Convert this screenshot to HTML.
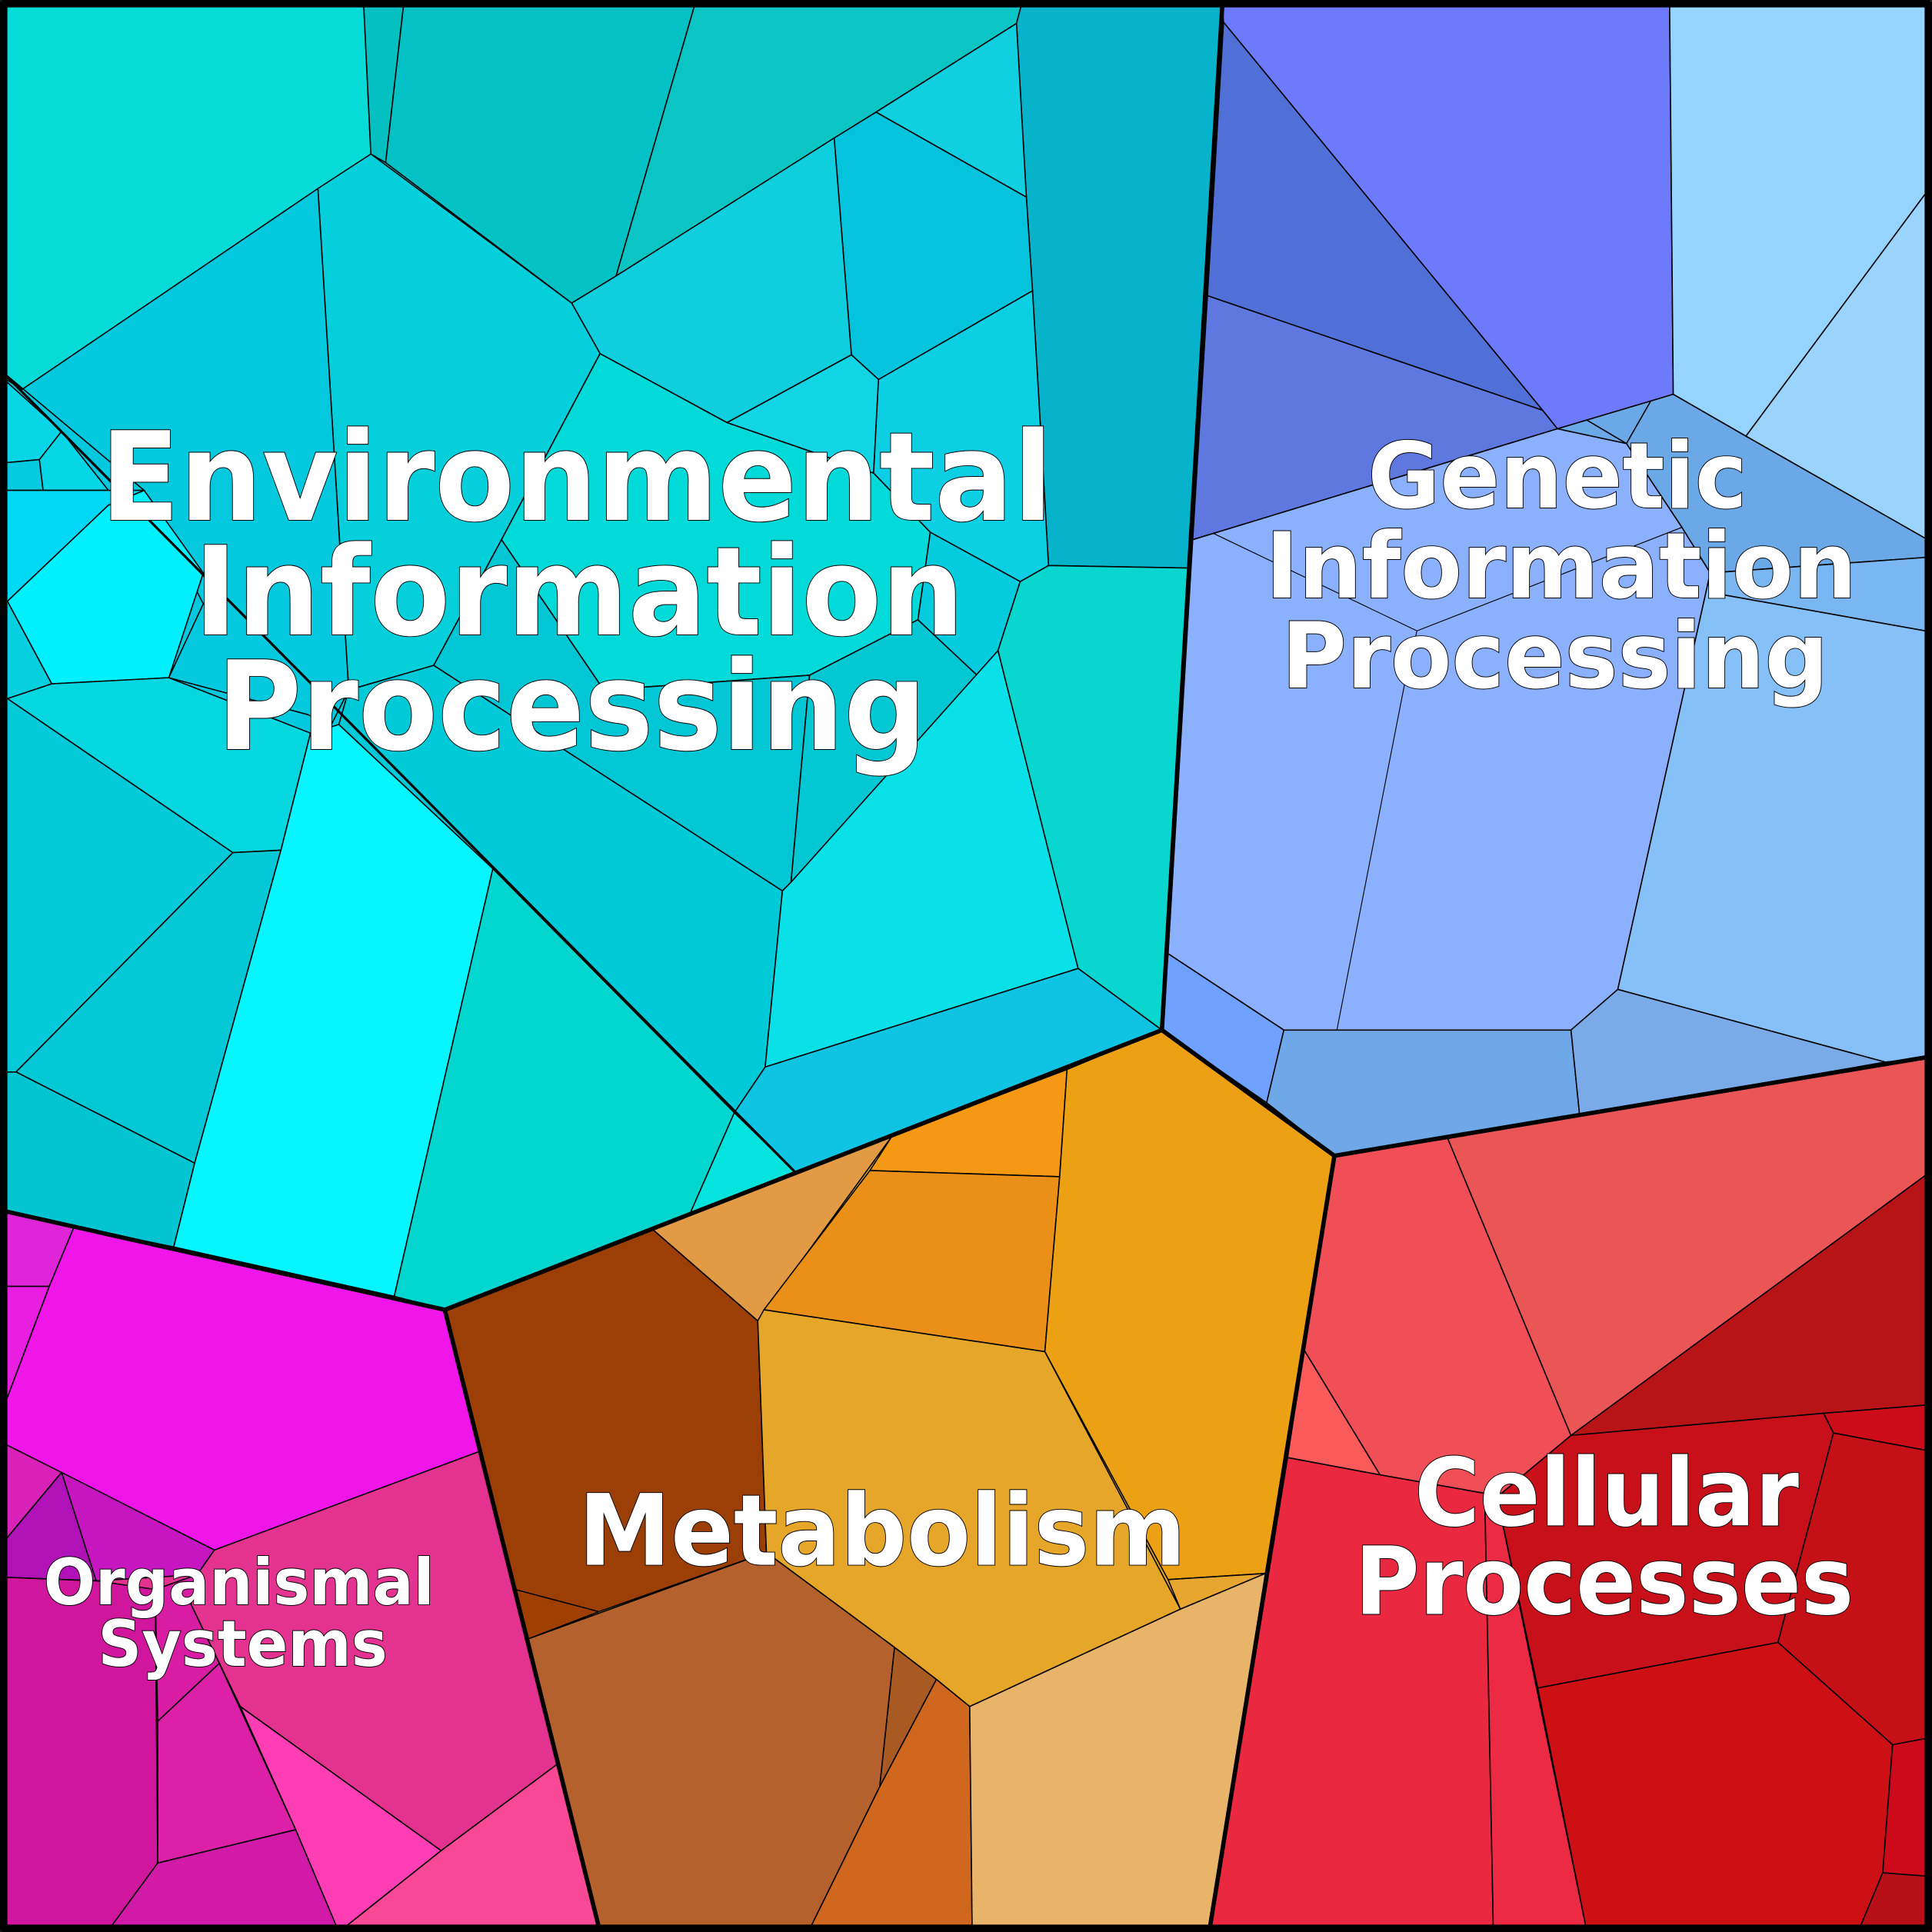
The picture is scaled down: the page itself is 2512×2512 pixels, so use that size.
<!DOCTYPE html>
<html><head><meta charset="utf-8"><style>html,body{margin:0;padding:0;background:#fff}svg{display:block}</style></head><body>
<svg width="2512" height="2512" viewBox="0 0 1568 1568" xmlns="http://www.w3.org/2000/svg">
<!-- region backgrounds -->
<polygon fill="#04c9de" points="0,0 992,0 943,836 361,1063 0,983"/>
<polygon fill="#8bb0fe" points="992,0 1568,0 1568,858 1083,938 943,836"/>
<polygon fill="#e6a629" points="943,836 1083,938 982,1568 486,1568 361,1063"/>
<polygon fill="#e43290" points="0,983 361,1063 486,1568 0,1568"/>
<polygon fill="#c8101a" points="1083,938 1568,858 1568,1568 982,1568"/>
<g stroke="#000" stroke-width="1" stroke-linejoin="round">
<!-- Environmental -->
<polygon fill="#07dbd8" points="0,0 295,0 301,125 18,316 0,305"/>
<polygon fill="#05c0c0" points="295,0 328,0 313,132 301,125"/>
<polygon fill="#03c1c4" points="328,0 565,0 500,224 464,246 313,132"/>
<polygon fill="#0bc5c5" points="565,0 830,0 825,19 500,224"/>
<polygon fill="#07b3cb" points="830,0 992,0 964,461 851,459 838,236 833,160 825,19"/>
<polygon fill="#0fcfe0" points="825,19 833,160 711,91"/>
<polygon fill="#04c3dd" points="711,91 833,160 838,236 713,308 691,288 677,112"/>
<polygon fill="#0fcfdf" points="500,224 677,112 691,288 590,343 487,287 464,246"/>
<polygon fill="#11d4e5" points="691,288 713,308 709,384 590,343"/>
<polygon fill="#0ccfe3" points="713,308 838,236 851,459 828,472 755,432 709,384"/>
<polygon fill="#05cfda" points="258,153 301,125 464,246 487,287 407,438 352,540 283,560"/>
<polygon fill="#04c9de" points="18,316 258,153 283,560 268,590 250,580 137,550 165,490 117,398 0,300"/>
<polygon fill="#08d6e6" points="0,305 50,350 32,373 0,376"/>
<polygon fill="#06cbe0" points="0,376 32,373 35,398 0,398"/>
<polygon fill="#05d5e5" points="32,373 50,350 88,398 35,398"/>
<polygon fill="#00d9f5" points="0,398 117,398 88,410 6,488 0,488"/>
<polygon fill="#00f0ff" points="6,488 88,410 117,398 165,465 137,550 42,555"/>
<polygon fill="#06d0e0" points="0,488 6,488 42,555 6,567 0,567"/>
<polygon fill="#05d6e0" points="6,567 42,555 137,550 252,595 228,690 189,692"/>
<polygon fill="#03c9d8" points="0,567 6,567 189,692 13,870 0,870"/>
<polygon fill="#04c8d5" points="189,692 228,690 158,944 13,870"/>
<polygon fill="#03c5d2" points="0,870 13,870 158,944 141,1012 0,983"/>
<polygon fill="#06f5fe" points="252,595 275,588 400,705 320,1052 141,1012 158,944 228,690"/>
<polygon fill="#03d6cf" points="400,705 596,903 560,985 361,1063 320,1052"/>
<polygon fill="#05e3df" points="596,903 645,951 560,985"/>
<polygon fill="#01cad8" points="283,560 352,540 635,723 621,866 596,903 400,705 275,588"/>
<polygon fill="#02d9d9" points="487,287 590,343 709,384 755,432 745,503 657,548 490,560 407,438"/>
<polygon fill="#02c6d4" points="352,540 407,438 490,560 657,548 642,716 635,723"/>
<polygon fill="#03c8d4" points="657,548 745,503 793,548 642,716"/>
<polygon fill="#04cbde" points="745,503 755,432 828,472 810,528 793,548"/>
<polygon fill="#0ae0e8" points="635,723 642,716 810,528 875,786 621,866"/>
<polygon fill="#0ad6d0" points="810,528 828,472 851,459 964,461 943,836 875,786"/>
<polygon fill="#0fc4e2" points="621,866 875,786 943,836 645,951 596,903"/>
<line x1="0" y1="300" x2="645" y2="951" stroke-width="2"/>
<!-- Genetic -->
<polygon fill="#6e7afc" points="992,0 1355,0 1358,320 1264,348 1252,333 993,18"/>
<polygon fill="#5070d8" points="993,18 1252,333 980,240"/>
<polygon fill="#5f78e0" points="980,240 1252,333 1264,348 968,438"/>
<polygon fill="#94d4fe" points="1355,0 1568,0 1568,150 1417,354 1358,320"/>
<polygon fill="#9ad4fc" points="1417,354 1568,150 1568,440"/>
<polygon fill="#6aa8e8" points="1264,348 1358,320 1417,354 1568,440 1568,452 1388,465 1365,428 1320,360"/>
<polyline fill="none" points="1288,341 1320,360 1340,325"/>
<polygon fill="#8bb0fe" points="968,438 1264,348 1320,360 1365,428 1388,465 1313,803 1275,836 1042,836 948,774"/>
<polyline fill="none" stroke-width="0.7" points="985,433 1150,512 1365,428"/>
<polyline fill="none" stroke-width="0.7" points="1150,512 1140,555 1085,836"/>
<polygon fill="#7ab6f2" points="1388,465 1568,452 1568,513 1400,483"/>
<polygon fill="#86c0f8" points="1388,465 1400,483 1568,513 1568,858 1530,862 1313,803"/>
<polygon fill="#6fa1fe" points="948,774 1042,836 1028,895 943,836"/>
<polygon fill="#6ea8e8" points="1042,836 1275,836 1282,905 1083,938 1028,895"/>
<polygon fill="#7aaae8" points="1275,836 1313,803 1530,862 1282,905"/>
<!-- Metabolism -->
<polygon fill="#9b3f07" points="361,1063 530,998 615,1072 622,1260 486,1308 429,1330"/>
<polygon fill="#a04000" points="418,1290 486,1308 429,1330"/>
<polygon fill="#e39a45" points="530,998 724,922 615,1072"/>
<polygon fill="#f59914" points="724,922 866,868 860,955 706,950"/>
<polygon fill="#ea8f18" points="706,950 860,955 848,1097 620,1063"/>
<polygon fill="#eca014" points="866,868 943,836 1083,938 1027,1277 948,1282 848,1097 860,955"/>
<polygon fill="#e6a629" points="615,1072 620,1063 848,1097 958,1306 787,1385 760,1363 726,1337 622,1260"/>
<polygon fill="#e8a530" points="948,1282 1027,1277 958,1306"/>
<polygon fill="#b5612e" points="429,1330 622,1260 726,1337 714,1450 656,1568 486,1568"/>
<polygon fill="#a85a22" points="726,1337 760,1363 714,1450"/>
<polygon fill="#d0671e" points="714,1450 760,1363 787,1385 789,1568 656,1568"/>
<polygon fill="#e8b46a" points="787,1385 958,1306 1027,1277 982,1568 789,1568"/>
<!-- Organismal -->
<polygon fill="#de26d8" points="0,983 60,996 40,1044 0,1044"/>
<polygon fill="#e81fe0" points="0,1044 40,1044 0,1150"/>
<polygon fill="#f016ea" points="60,996 361,1063 389,1178 174,1258 0,1170 0,1150 40,1044"/>
<polygon fill="#d822b8" points="0,1170 50,1195 0,1255"/>
<polygon fill="#c616c0" points="50,1195 174,1258 160,1278 78,1283"/>
<polygon fill="#b012b8" points="0,1255 50,1195 78,1283 0,1280"/>
<polygon fill="#e43290" points="174,1258 389,1178 452,1432 358,1502 195,1385 155,1302 160,1278"/>
<polygon fill="#ff3db4" points="195,1385 358,1502 275,1568 240,1485"/>
<polygon fill="#f84896" points="358,1502 452,1432 486,1568 275,1568"/>
<polygon fill="#d0169c" points="0,1280 78,1283 126,1290 128,1512 87,1568 0,1568"/>
<polygon fill="#d81ca4" points="126,1290 160,1278 155,1302 178,1350 128,1397"/>
<polygon fill="#dc20a8" points="128,1397 178,1350 240,1485 128,1512"/>
<polygon fill="#d21aa8" points="128,1512 240,1485 275,1568 87,1568"/>
<!-- Cellular -->
<polygon fill="#f04f57" points="1083,938 1175,924 1275,1165 1215,1215 1205,1212 1120,1197 1058,1095"/>
<polygon fill="#ea5555" points="1175,924 1568,858 1568,950 1275,1165"/>
<polygon fill="#fa5a5a" points="1058,1095 1120,1197 1045,1183 1053,1130"/>
<polygon fill="#b81418" points="1275,1165 1568,950 1568,1140 1480,1147"/>
<polygon fill="#ea2840" points="1045,1183 1120,1197 1205,1212 1212,1568 982,1568"/>
<polygon fill="#ec2a44" points="1205,1212 1215,1215 1288,1568 1212,1568"/>
<polygon fill="#c8101a" points="1215,1215 1275,1165 1480,1147 1488,1163 1443,1333 1248,1370"/>
<polygon fill="#cc0c18" points="1480,1147 1568,1140 1568,1178 1488,1163"/>
<polygon fill="#c41016" points="1488,1163 1568,1178 1568,1410 1536,1416 1443,1333"/>
<polygon fill="#cc1014" points="1248,1370 1443,1333 1536,1416 1528,1520 1508,1568 1288,1568"/>
<polygon fill="#cc0a1a" points="1536,1416 1568,1410 1568,1523 1528,1520"/>
<polygon fill="#b81018" points="1528,1520 1568,1523 1568,1568 1508,1568"/>
</g>
<g fill="none" stroke="#000" stroke-width="3.5" stroke-linejoin="round">
<polyline points="992,4 943,836 361,1063 4,983"/>
<polyline points="361,1063 486,1564"/>
<polyline points="943,836 1083,938 1564,858"/>
<polyline points="1083,938 982,1564"/>
<rect x="3" y="3" width="1562" height="1562" stroke-width="6"/>
</g>
<g font-family="'DejaVu Sans','Liberation Sans',sans-serif" font-weight="bold" fill="#fff" stroke="#000" stroke-width="1.2" paint-order="stroke" text-anchor="middle">
<text x="468" y="422" font-size="100" textLength="773" lengthAdjust="spacingAndGlyphs">Environmental</text>
<text x="470" y="515" font-size="100" textLength="625" lengthAdjust="spacingAndGlyphs">Information</text>
<text x="464" y="608" font-size="100" textLength="576" lengthAdjust="spacingAndGlyphs">Processing</text>
<text x="1264" y="412" font-size="74" textLength="308" lengthAdjust="spacingAndGlyphs">Genetic</text>
<text x="1267" y="485" font-size="74" textLength="480" lengthAdjust="spacingAndGlyphs">Information</text>
<text x="1262" y="558" font-size="74" textLength="444" lengthAdjust="spacingAndGlyphs">Processing</text>
<text x="716" y="1270" font-size="80" textLength="493" lengthAdjust="spacingAndGlyphs">Metabolism</text>
<text x="1304" y="1238" font-size="76" textLength="312" lengthAdjust="spacingAndGlyphs">Cellular</text>
<text x="1302" y="1310" font-size="76" textLength="405" lengthAdjust="spacingAndGlyphs">Processes</text>
<text x="194" y="1302" font-size="52" textLength="317" lengthAdjust="spacingAndGlyphs">Organismal</text>
<text x="197" y="1352" font-size="52" textLength="235" lengthAdjust="spacingAndGlyphs">Systems</text>
</g>
</svg>
</body></html>
